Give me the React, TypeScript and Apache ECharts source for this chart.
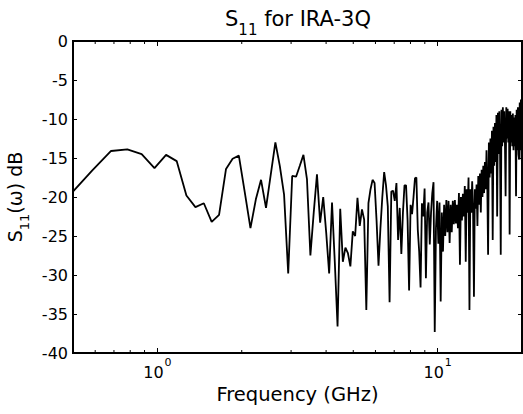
import React, { useEffect, useRef } from "react";
import * as echarts from "echarts";

// Uniform sweep: bin spacing of the measurement (GHz) and first bin shown
const FREQ_STEP_GHZ = 100 / 1024;
const FIRST_BIN = 5;

// |S11| in dB, one value per frequency bin
const s11dB: number[] = [
  -19.7, -16.6, -14.1, -13.9, -14.5, -16.3, -14.6, -15.4, -19.8, -21.3,
  -20.8, -23.2, -22.3, -16.4, -15.1, -14.7, -19.4, -24.0, -20.3, -17.8,
  -21.4, -17.1, -13.0, -16.0, -19.7, -29.8, -17.3, -17.4, -16.0, -14.6,
  -17.7, -27.5, -22.0, -17.1, -23.3, -20.0, -24.6, -29.8, -20.7, -28.4,
  -36.6, -21.5, -28.3, -26.5, -27.2, -28.9, -24.4, -25.0, -20.1, -23.7,
  -21.6, -22.9, -34.5, -20.8, -19.0, -17.8, -18.2, -23.0, -28.8, -24.0,
  -20.0, -16.8, -18.5, -21.2, -33.5, -19.3, -19.2, -20.5, -18.2, -25.5,
  -21.4, -27.3, -22.0, -18.5, -18.5, -23.0, -32.0, -21.0, -22.2, -20.0,
  -17.6, -17.5, -24.2, -27.0, -31.6, -20.8, -22.5, -18.9, -30.4, -22.0,
  -20.7, -26.1, -22.0, -19.5, -18.1, -37.3, -24.0, -20.5, -26.0, -20.7,
  -33.4, -22.0, -27.0, -21.0, -25.0, -20.4, -24.5, -20.5, -25.9, -21.0,
  -24.5, -20.5, -23.5, -20.4, -23.4, -21.0, -24.0, -19.5, -28.7, -20.0,
  -23.0, -19.6, -22.5, -18.6, -28.3, -19.0, -22.0, -17.5, -34.5, -19.0,
  -22.0, -18.0, -21.5, -32.8, -19.0, -21.5, -18.4, -23.7, -17.3, -21.0,
  -17.0, -22.0, -16.5, -20.0, -16.0, -19.5, -15.5, -19.0, -14.0, -18.5,
  -27.4, -13.0, -17.5, -12.5, -17.0, -11.5, -25.5, -11.0, -16.0, -10.5,
  -15.5, -9.5, -22.5, -9.2, -14.5, -9.0, -14.0, -27.4, -8.8, -13.5,
  -8.5, -13.0, -9.0, -13.0, -19.9, -8.5, -12.5, -8.7, -13.0, -9.0,
  -24.8, -9.0, -13.0, -9.5, -13.5, -9.3, -14.0, -9.8, -13.5, -9.5,
  -19.9, -8.8, -14.0, -8.5, -14.5, -15.2, -7.9, -14.0, -7.5, -15.0,
  -15.6,
];

const freqGHz: number[] = s11dB.map((_, i) => (FIRST_BIN + i) * FREQ_STEP_GHZ);

const X_MIN = 0.5;
const X_MAX = 20;
const Y_MIN = -40;
const Y_MAX = 0;
const Y_STEP = 5;
const minorTickFreqs = [0.6, 0.7, 0.8, 0.9, 2, 3, 4, 5, 6, 7, 8, 9];

const TITLE_MAIN = "S";
const TITLE_SUB = "11";
const TITLE_REST = " for IRA-3Q";
const Y_NAME_MAIN = "S";
const Y_NAME_SUB = "11";
const Y_NAME_REST = "(ω) dB";
const X_NAME = "Frequency (GHz)";

const FONT = "'DejaVu Sans', 'Liberation Sans', Arial, sans-serif";

export default function App() {
  const ref = useRef<HTMLDivElement>(null);

  useEffect(() => {
    document.body.style.margin = "0";
    const chart = echarts.init(ref.current as HTMLDivElement, null, { renderer: "svg" });

    const richFor = (main: number, sub: number, mainLH: number, subPad: number) => ({
      m: { fontSize: main, fontWeight: "normal", lineHeight: mainLH, verticalAlign: "top", fontFamily: FONT, color: "#000" },
      s: { fontSize: sub, fontWeight: "normal", lineHeight: 14, verticalAlign: "top", padding: [subPad, 0, 0, 0], fontFamily: FONT, color: "#000" },
    });

    const frameLine = { show: true, onZero: false, lineStyle: { color: "#000", width: 2 } };
    const tickStyle = { color: "#000", width: 1 };

    const option: any = {
      animation: false,
      backgroundColor: "#fff",
      title: {
        text: `{m|${TITLE_MAIN}}{s|${TITLE_SUB}}{m|${TITLE_REST}}`,
        left: 298,
        top: 8,
        padding: 0,
        textAlign: "center",
        textStyle: { fontWeight: "normal", rich: richFor(21, 15, 24, 14) },
      },
      grid: {
        left: 73,
        right: 1,
        top: 41,
        bottom: 61,
        containLabel: false,
        outerBoundsMode: "none",
        show: true,
        borderColor: "#000",
        borderWidth: 2,
        backgroundColor: "#fff",
      },
      xAxis: [
        {
          type: "log",
          logBase: 10,
          min: X_MIN,
          max: X_MAX,
          position: "bottom",
          axisLine: frameLine,
          axisTick: { show: true, inside: true, length: 5, lineStyle: tickStyle },
          minorTick: { show: false },
          splitLine: { show: false },
          axisLabel: {
            margin: 3,
            showMinLabel: false,
            showMaxLabel: false,
            formatter: (v: number) => {
              const e = Math.round(Math.log10(v));
              if (Math.abs(Math.pow(10, e) - v) > 1e-6 * v) return "";
              return `{b|10}{p|${e}}`;
            },
            rich: {
              b: { fontSize: 16, lineHeight: 18, verticalAlign: "top", padding: [8, 0, 0, 0], fontFamily: FONT, color: "#000" },
              p: { fontSize: 11, lineHeight: 12, verticalAlign: "top", padding: [1, 0, 0, 1], fontFamily: FONT, color: "#000" },
            },
          },
          name: X_NAME,
          nameLocation: "middle",
          nameGap: 32,
          nameTextStyle: { fontSize: 19.5, lineHeight: 19, fontFamily: FONT, color: "#000" },
        },
        {
          type: "log",
          logBase: 10,
          min: X_MIN,
          max: X_MAX,
          position: "top",
          axisLine: frameLine,
          axisTick: { show: true, inside: true, length: 5, lineStyle: tickStyle },
          axisLabel: { show: false },
          splitLine: { show: false },
        },
      ],
      yAxis: [
        {
          type: "value",
          min: Y_MIN,
          max: Y_MAX,
          interval: Y_STEP,
          position: "left",
          axisLine: frameLine,
          axisTick: { show: true, inside: true, length: 4, lineStyle: tickStyle },
          splitLine: { show: false },
          axisLabel: { fontSize: 16, color: "#000", margin: 5, fontFamily: FONT },
          name: `{m|${Y_NAME_MAIN}}{s|${Y_NAME_SUB}}{m|${Y_NAME_REST}}`,
          nameLocation: "middle",
          nameRotate: 90,
          nameGap: 47,
          nameTextStyle: { rich: richFor(19, 13, 20, 12) },
        },
        {
          type: "value",
          min: Y_MIN,
          max: Y_MAX,
          interval: Y_STEP,
          position: "right",
          axisLine: frameLine,
          axisTick: { show: true, inside: true, length: 4, lineStyle: tickStyle },
          splitLine: { show: false },
          axisLabel: { show: false },
        },
      ],
      series: [
        {
          type: "line",
          xAxisIndex: 0,
          yAxisIndex: 0,
          data: freqGHz.map((f, i) => [f, s11dB[i]]),
          showSymbol: false,
          symbol: "none",
          clip: true,
          lineStyle: { color: "#000", width: 1.8 },
          z: 3,
        },
        {
          type: "custom",
          xAxisIndex: 0,
          yAxisIndex: 0,
          silent: true,
          z: 4,
          data: minorTickFreqs.map((f) => [f, Y_MIN]),
          renderItem: (_params: any, api: any) => {
            const f = api.value(0);
            const pb = api.coord([f, Y_MIN]);
            const pt = api.coord([f, Y_MAX]);
            return {
              type: "group",
              children: [
                { type: "line", shape: { x1: pb[0], y1: pb[1], x2: pb[0], y2: pb[1] - 3 }, style: { stroke: "#000", lineWidth: 1 } },
                { type: "line", shape: { x1: pt[0], y1: pt[1], x2: pt[0], y2: pt[1] + 3 }, style: { stroke: "#000", lineWidth: 1 } },
              ],
            };
          },
        },
      ],
    };

    chart.setOption(option);
    return () => chart.dispose();
  }, []);

  return <div ref={ref} style={{ width: 523, height: 414 }} />;
}
